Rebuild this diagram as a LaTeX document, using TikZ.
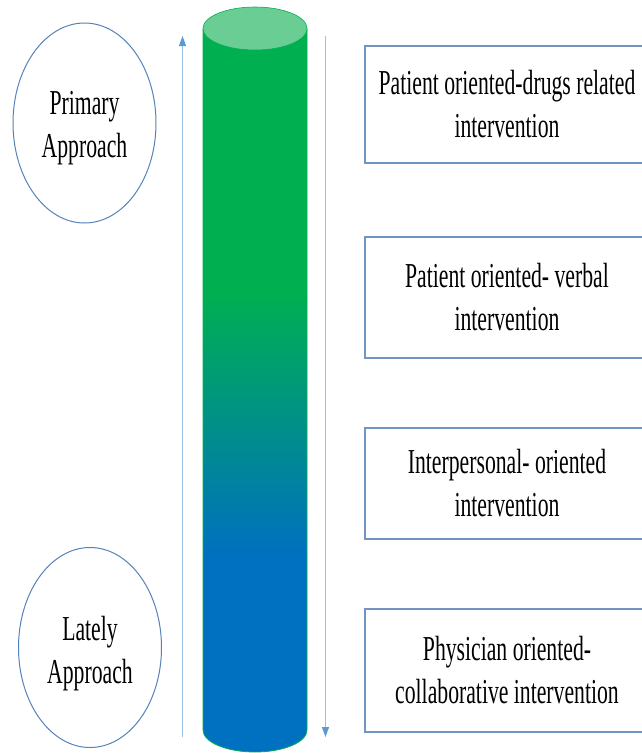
\documentclass[tikz,border=0pt]{standalone}
\usepackage{fontspec}
\newfontfamily\narrowfont[FakeStretch=0.62]{Liberation Serif}
\usetikzlibrary{arrows.meta,shapes.geometric}
\definecolor{cgreen}{RGB}{0,176,80}
\definecolor{cblue}{RGB}{0,112,192}
\definecolor{ccap}{RGB}{106,206,148}
\definecolor{ovalline}{RGB}{84,130,186}
\definecolor{boxline}{RGB}{115,148,192}
\definecolor{arrline}{RGB}{157,195,230}
\definecolor{arrhead}{RGB}{91,155,213}
\begin{document}
\begin{tikzpicture}[x=1pt,y=-1pt,
  lbl/.style={font=\narrowfont\fontsize{35}{43}\selectfont, align=center, text=black},
  oval/.style={ellipse, draw=ovalline, line width=1pt, inner sep=0pt, minimum width=143pt, minimum height=200pt},
  ibox/.style={lbl, rectangle, draw=boxline, line width=1.2pt, inner sep=0pt, minimum width=284pt},
  arr/.style={draw=arrline, line width=1pt, -{Triangle[length=10pt,width=7pt,color=arrhead]}}]
\clip (0,0) rectangle (642,753);
% cylinder
\begin{scope}
\clip (203,28.5) -- (203,730) arc[start angle=180,end angle=0,x radius=52,y radius=22] -- (307,28.5) -- cycle;
\fill[cgreen] (195,0) rectangle (315,290);
\shade[top color=cgreen,bottom color=cblue] (195,289.5) rectangle (315,557.5);
\fill[cblue] (195,557) rectangle (315,760);
\end{scope}
\draw[cgreen, line width=0.8pt] (203,28.5) -- (203,730) arc[start angle=180,end angle=0,x radius=52,y radius=22] -- (307,28.5);
\draw[fill=ccap, draw=cgreen, line width=0.6pt] (255,28.5) ellipse [x radius=52, y radius=21.5];
% arrows
\coordinate (la1) at (182.5,737);
\coordinate (la2) at (182.5,36);
\coordinate (ra1) at (325.5,36);
\coordinate (ra2) at (325.5,737);
\draw[arr] (la1) -- (la2);
\draw[arr] (ra1) -- (ra2);
% ovals
\node[oval] (primary) at (84.5,123) {};
\node[lbl] (primarytxt) at (84.5,128) {Primary\\Approach};
\node[oval] (lately) at (90,647.5) {};
\node[lbl] (latelytxt) at (90,653.5) {Lately\\Approach};
% boxes
\node[ibox, minimum height=117pt] (b1) at (507,104.5) {Patient oriented-drugs related\\intervention};
\node[ibox, minimum height=121pt] (b2) at (507,297.5) {Patient oriented- verbal\\intervention};
\node[ibox, minimum height=111pt] (b3) at (507,483.5) {Interpersonal- oriented\\intervention};
\node[ibox, minimum height=123pt] (b4) at (507,670.5) {Physician oriented-\\collaborative intervention};
\end{tikzpicture}
\end{document}
